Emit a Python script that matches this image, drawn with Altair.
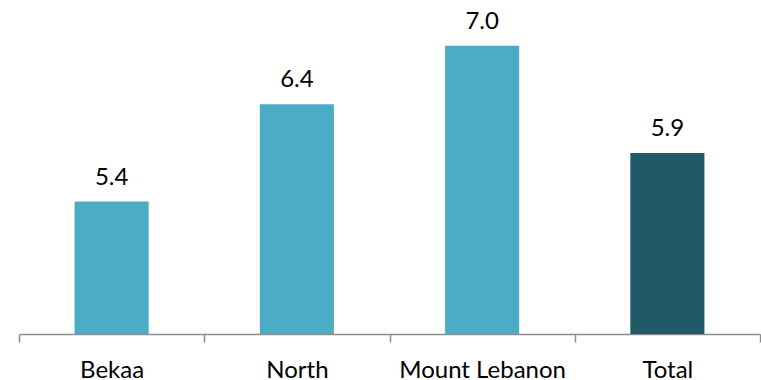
import altair as alt
import pandas as pd

# Regional values
regions = ["Bekaa", "North", "Mount Lebanon", "Total"]
values = [5.4, 6.4, 7.0, 5.9]
bar_colors = ["#4BACC6", "#4BACC6", "#4BACC6", "#215968"]

df = pd.DataFrame({"region": regions, "value": values, "color": bar_colors})
df["label"] = df["value"].map(lambda v: f"{v:.1f}")

FONT = "Lato"

x = alt.X(
    "region:N",
    sort=regions,
    title=None,
    scale=alt.Scale(paddingInner=0, paddingOuter=0),
    axis=alt.Axis(
        domainColor="#8c8c8c",
        domainWidth=1.5,
        tickColor="#8c8c8c",
        tickWidth=1.5,
        tickSize=8,
        tickBand="extent",
        labelAngle=0,
        labelFont=FONT,
        labelFontSize=24,
        labelColor="#000000",
        labelBaseline="alphabetic",
        labelPadding=35,
        labelOverlap=False,
    ),
)
y = alt.Y(
    "value:Q",
    title=None,
    axis=None,
    scale=alt.Scale(domain=[4.04, 7.47], zero=False, nice=False),
)

bars = alt.Chart(df).mark_bar(clip=True, width=alt.RelativeBandSize(0.4)).encode(
    x=x,
    y=y,
    color=alt.Color("color:N", scale=None),
)

labels = alt.Chart(df).mark_text(
    font=FONT, fontSize=24, color="#000000", baseline="alphabetic", dy=-17
).encode(
    x=alt.X("region:N", sort=regions),
    y=alt.Y("value:Q"),
    text="label:N",
)

chart = (
    alt.layer(bars, labels)
    .properties(
        width=741,
        height=334,
        background="#ffffff",
        autosize=alt.AutoSizeParams(type="none"),
        padding={"left": 19, "top": 0, "right": 1, "bottom": 46},
    )
    .configure_view(stroke=None)
)

chart.save("out.html", embed_options={"renderer": "svg", "actions": False})
